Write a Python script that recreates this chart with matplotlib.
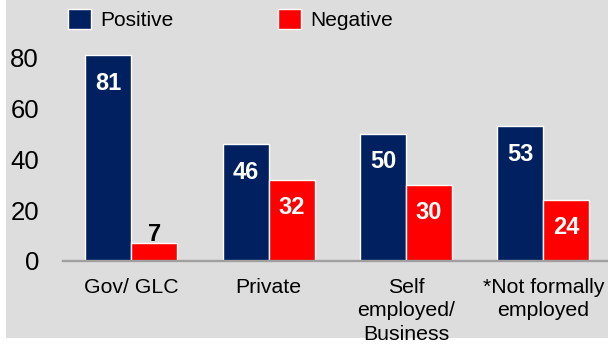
import matplotlib.pyplot as plt
import numpy as np
from matplotlib.patches import Rectangle

categories = ['Gov/ GLC', 'Private', 'Self\nemployed/\nBusiness', '*Not formally\nemployed']
positive = [81, 46, 50, 53]
negative = [7, 32, 30, 24]
series_names = ['Positive', 'Negative']
yticks = [0, 20, 40, 60, 80]

NAVY = '#002060'
RED = '#FF0000'
BG = '#DDDDDD'

plt.rcParams['font.family'] = ['Liberation Sans', 'DejaVu Sans']

fig = plt.figure(figsize=(6.08, 3.47), dpi=100)
fig.patch.set_facecolor('white')
# gray panel behind the chart
fig.patches.append(Rectangle((6 / 608, 9 / 347), 1, 1, transform=fig.transFigure,
                             facecolor=BG, edgecolor='none', zorder=-10))

W, H = 608, 347
ax = fig.add_axes([62.5 / W, (H - 261) / H, (612 - 62.5) / W, 254 / H])
ax.set_facecolor('none')

x = np.arange(len(categories))
bw = 0.335
b1 = ax.bar(x - bw / 2, positive, bw, color=NAVY, edgecolor='white', lw=1, label=series_names[0])
b2 = ax.bar(x + bw / 2, negative, bw, color=RED, edgecolor='white', lw=1, label=series_names[1])

# value labels
for bars, vals in [(b1, positive), (b2, negative)]:
    for b, v in zip(bars, vals):
        cx = b.get_x() + b.get_width() / 2
        if v > 15:
            ax.text(cx, v - 11, str(v), ha='center', va='center', color='white',
                    fontsize=17, fontweight='bold')
        else:
            ax.text(cx, v - 1, str(v), ha='center', va='bottom', color='black',
                    fontsize=17, fontweight='bold')

ax.set_xlim(-0.5, 3.5)
ax.set_ylim(0, 100)
ax.set_yticks(yticks)
ax.set_yticklabels([str(t) for t in yticks], fontsize=18.5)
ax.set_xticks(x)
ax.set_xticklabels(categories, fontsize=15.3, linespacing=1.3, va='top')
ax.tick_params(axis='y', length=0, pad=17)
ax.tick_params(axis='x', length=0, pad=12)

for s in ['top', 'right', 'left']:
    ax.spines[s].set_visible(False)
ax.spines['bottom'].set_color('#A0A0A0')
ax.spines['bottom'].set_linewidth(1.7)

ax.legend(ncol=2, loc='upper left', bbox_to_anchor=(68 / W, 1 - 9 / H),
          bbox_transform=fig.transFigure, frameon=False, fontsize=15,
          handlelength=1.1, handleheight=1.1, handletextpad=0.45,
          columnspacing=5.0, borderpad=0, borderaxespad=0)

fig.savefig('out.png', dpi=100, facecolor='white')
